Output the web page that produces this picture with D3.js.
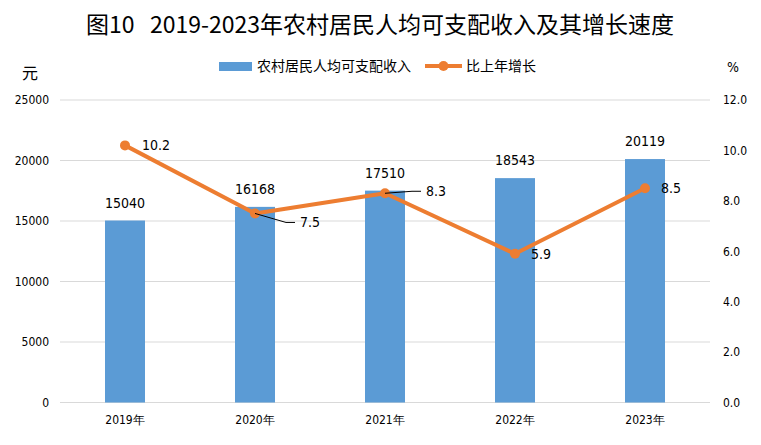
<!DOCTYPE html>
<html>
<head>
<meta charset="utf-8">
<script src="https://cdn.jsdelivr.net/npm/d3@7"></script>
<style>
  body { margin: 0; background: #fff; }
  svg { display: block; }
</style>
</head>
<body>
<svg id="chart" width="761" height="445"></svg>
<script>
// values
var years = ["2019年", "2020年", "2021年", "2022年", "2023年"];
var income = [15040, 16168, 17510, 18543, 20119];
var growth = [10.2, 7.5, 8.3, 5.9, 8.5];
var leftTicks = [0, 5000, 10000, 15000, 20000, 25000];
var rightTicks = [0, 2, 4, 6, 8, 10, 12];

// where the growth labels sit relative to their points (leader = draw a thin black line)
var growthLabelOffset = [
    { dx: 17, dy: 0, leader: false },
    { dx: 45, dy: 9, leader: true },
    { dx: 41, dy: -2, leader: true },
    { dx: 16, dy: 0, leader: false },
    { dx: 16, dy: 0, leader: false }
];

var svg = d3.select("#chart");
var plot = { left: 60, right: 710, top: 100, bottom: 402.5 };
var cjk = "'Noto Sans CJK SC', 'Noto Sans', sans-serif";
var num = "'DejaVu Sans Condensed', 'DejaVu Sans', sans-serif";

var x = d3.scaleBand().domain(years).range([plot.left, plot.right]).paddingInner(0).paddingOuter(0);
var yL = d3.scaleLinear().domain([0, 25000]).range([plot.bottom, plot.top]);
var yR = d3.scaleLinear().domain([0, 12]).range([plot.bottom, plot.top]);

// title
svg.append("text")
    .attr("x", 380).attr("y", 33)
    .attr("text-anchor", "middle")
    .style("font-family", cjk).style("font-size", "23px").style("font-weight", "normal")
    .style("white-space", "pre")
    .attr("fill", "#000")
    .text("图10   2019-2023年农村居民人均可支配收入及其增长速度");

// gridlines
svg.append("g").selectAll("line")
    .data(leftTicks)
    .join("line")
    .attr("x1", plot.left).attr("x2", plot.right)
    .attr("y1", d => yL(d)).attr("y2", d => yL(d))
    .attr("stroke", "#d9d9d9").attr("stroke-width", 1);

// left axis
var gl = svg.append("g")
    .attr("transform", "translate(" + (plot.left - 8) + ",0)")
    .call(d3.axisLeft(yL).tickValues(leftTicks).tickSize(0).tickFormat(d3.format("d")));
gl.select(".domain").remove();
gl.selectAll("text").style("font-family", num).style("font-size", "12px").attr("fill", "#000");

// right axis
var gr = svg.append("g")
    .attr("transform", "translate(" + (plot.right + 10) + ",0)")
    .call(d3.axisRight(yR).tickValues(rightTicks).tickSize(0).tickFormat(d3.format(".1f")));
gr.select(".domain").remove();
gr.selectAll("text").style("font-family", num).style("font-size", "12px").attr("fill", "#000");

// bottom axis
var gb = svg.append("g")
    .attr("transform", "translate(0," + (plot.bottom + 10) + ")")
    .call(d3.axisBottom(x).tickSize(0));
gb.select(".domain").remove();
gb.selectAll("text").style("font-family", num).style("font-size", "12px").attr("fill", "#000");

// unit labels
svg.append("text").attr("x", 30).attr("y", 79).attr("text-anchor", "middle")
    .style("font-family", cjk).style("font-size", "16px").text("元");
svg.append("text").attr("x", 733).attr("y", 72).attr("text-anchor", "middle")
    .style("font-family", num).style("font-size", "14px").text("%");

// bars
var barW = 40;
svg.append("g").selectAll("rect")
    .data(income)
    .join("rect")
    .attr("x", (d, i) => x(years[i]) + x.bandwidth() / 2 - barW / 2)
    .attr("y", d => yL(d))
    .attr("width", barW)
    .attr("height", d => plot.bottom - yL(d))
    .attr("fill", "#5b9bd5");

svg.append("g").selectAll("text")
    .data(income)
    .join("text")
    .attr("x", (d, i) => x(years[i]) + x.bandwidth() / 2)
    .attr("y", d => yL(d) - 13)
    .attr("text-anchor", "middle")
    .style("font-family", num).style("font-size", "14px")
    .text(d => d);

// growth line
var cx = (d, i) => x(years[i]) + x.bandwidth() / 2;
var line = d3.line().x(cx).y(d => yR(d));
svg.append("path")
    .datum(growth)
    .attr("d", line)
    .attr("fill", "none")
    .attr("stroke", "#ed7d31")
    .attr("stroke-width", 4)
    .attr("stroke-linejoin", "round");

svg.append("g").selectAll("circle")
    .data(growth)
    .join("circle")
    .attr("cx", cx).attr("cy", d => yR(d))
    .attr("r", 5)
    .attr("fill", "#ed7d31");

// leader lines for the labels that were nudged
var nudged = d3.range(growth.length).filter(i => growthLabelOffset[i].leader);
svg.append("g").selectAll("polyline")
    .data(nudged)
    .join("polyline")
    .attr("points", function (i) {
        var px = cx(growth[i], i), py = yR(growth[i]), o = growthLabelOffset[i];
        return [[px, py], [px + o.dx - 14, py + o.dy], [px + o.dx - 5, py + o.dy]].join(" ");
    })
    .attr("fill", "none").attr("stroke", "#000").attr("stroke-width", 1);

svg.append("g").selectAll("text")
    .data(growth)
    .join("text")
    .attr("x", (d, i) => cx(d, i) + growthLabelOffset[i].dx)
    .attr("y", (d, i) => yR(d) + growthLabelOffset[i].dy)
    .attr("dy", "0.35em")
    .style("font-family", num).style("font-size", "14px")
    .text(d => d3.format(".1f")(d));

// legend
var lg = svg.append("g").style("font-family", cjk).style("font-size", "14px");
lg.append("rect").attr("x", 219).attr("y", 62).attr("width", 33).attr("height", 9).attr("fill", "#5b9bd5");
lg.append("text").attr("x", 257).attr("y", 71).text("农村居民人均可支配收入");
lg.append("line").attr("x1", 425).attr("x2", 462).attr("y1", 66).attr("y2", 66)
    .attr("stroke", "#ed7d31").attr("stroke-width", 4);
lg.append("circle").attr("cx", 443.5).attr("cy", 66).attr("r", 5).attr("fill", "#ed7d31");
lg.append("text").attr("x", 466).attr("y", 71).text("比上年增长");
</script>
</body>
</html>
